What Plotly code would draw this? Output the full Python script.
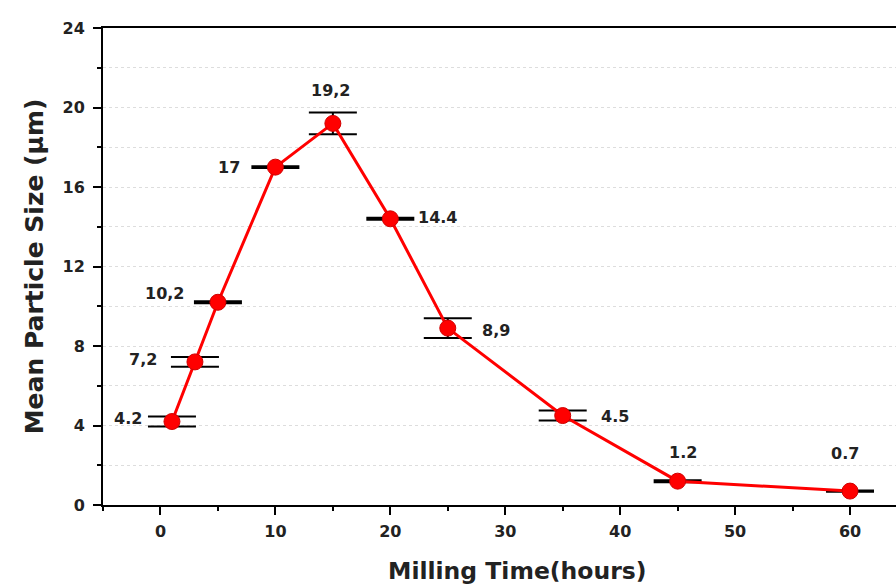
import plotly.graph_objects as go

# Milling time (hours) vs. mean particle size (µm)
milling_time = [1, 3, 5, 10, 15, 20, 25, 35, 45, 60]
mean_size = [4.2, 7.2, 10.2, 17.0, 19.2, 14.4, 8.9, 4.5, 1.2, 0.7]
size_error = [0.25, 0.25, 0.05, 0.05, 0.55, 0.05, 0.5, 0.25, 0.05, 0.03]
value_labels = ["4.2", "7,2", "10,2", "17", "19,2", "14.4", "8,9", "4.5", "1.2", "0.7"]

x_ticks = [0, 10, 20, 30, 40, 50, 60]
y_ticks = [0, 4, 8, 12, 16, 20, 24]

# label offsets (px) relative to each point
label_offsets = [(-44, 3), (-52, 2), (-53, 9), (-46, 0), (-2, 33), (47, 1), (48, -2), (52, -1), (5, 29), (-5, 38)]

FONT = "DejaVu Sans"

fig = go.Figure()
fig.add_trace(go.Scatter(
    x=milling_time, y=mean_size,
    mode="lines+markers",
    line=dict(color="#ff0000", width=3),
    marker=dict(color="#ff0000", size=16, line=dict(color="#d00000", width=1)),
    error_y=dict(type="data", array=size_error, visible=True,
                 color="black", thickness=2, width=24),
    showlegend=False,
))

for x, y, t, (dx, dy) in zip(milling_time, mean_size, value_labels, label_offsets):
    fig.add_annotation(x=x, y=y, text=f"<b>{t}</b>", showarrow=False,
                       xshift=dx, yshift=dy,
                       font=dict(family=FONT, size=16, color="#222222"))

# axis titles
fig.add_annotation(x=0.523, y=-0.138, xref="paper", yref="paper",
                   text="<b>Milling Time(hours)</b>", showarrow=False,
                   xanchor="center", yanchor="middle",
                   font=dict(family=FONT, size=23.5, color="#222222"))
fig.add_annotation(x=-0.086, y=0.5, xref="paper", yref="paper",
                   text="<b>Mean Particle Size (μm)</b>", showarrow=False,
                   textangle=-90, xanchor="center", yanchor="middle",
                   font=dict(family=FONT, size=25, color="#222222"))

fig.update_layout(
    width=896, height=586,
    margin=dict(l=103, r=0, t=28, b=81),
    paper_bgcolor="white", plot_bgcolor="white",
    font=dict(family=FONT, color="#222222"),
    xaxis=dict(
        range=[-5, 64], tickvals=x_ticks,
        ticktext=[f"<b>{v}</b>" for v in x_ticks],
        tickfont=dict(size=16), ticks="outside", ticklen=8, tickwidth=2,
        ticklabelstandoff=3,
        tickcolor="black", showline=True, linecolor="black", linewidth=2,
        mirror=True, showgrid=False, zeroline=False,
        minor=dict(dtick=5, tick0=0, ticks="outside", ticklen=4, tickwidth=2,
                   tickcolor="black", showgrid=False),
    ),
    yaxis=dict(
        range=[0, 24], tickvals=y_ticks,
        ticktext=[f"<b>{v}</b>" for v in y_ticks],
        tickfont=dict(size=16), ticks="outside", ticklen=8, tickwidth=2,
        ticklabelstandoff=5,
        tickcolor="black", showline=True, linecolor="black", linewidth=2,
        mirror=False, showgrid=True, gridcolor="#dddddd", griddash="dot",
        gridwidth=1, zeroline=False,
        minor=dict(dtick=2, tick0=0, ticks="outside", ticklen=4, tickwidth=2,
                   tickcolor="black", showgrid=True, gridcolor="#dddddd",
                   griddash="dot", gridwidth=1),
    ),
)

fig.write_html("out.html")
